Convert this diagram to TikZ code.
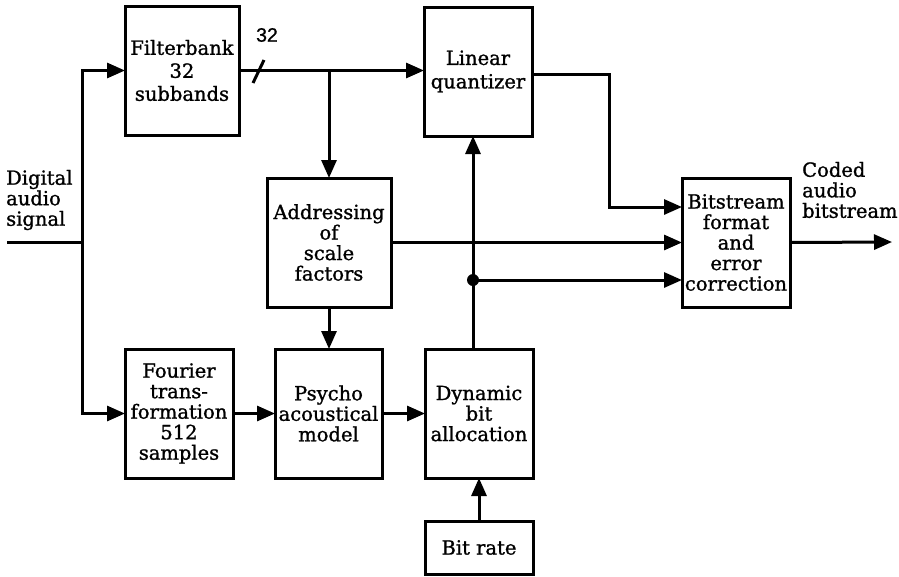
\documentclass[tikz,border=0pt]{standalone}
\usepackage{fontspec}
\setmainfont{DejaVu Serif}[FakeBold=1.2]
\newfontfamily\labelsans{Liberation Sans}[FakeBold=1.0]
\usetikzlibrary{arrows.meta}
\tikzset{
  blk/.style={draw, line width=3pt, inner sep=0pt, outer sep=0pt, align=center,
    font=\fontsize{19.5}{20.5}\selectfont},
  lbl/.style={inner sep=0pt, align=left, font=\fontsize{19.5}{20.5}\selectfont},
  con/.style={line width=3pt},
  arr/.style={con, -{Triangle[length=18pt,width=15pt]}},
}
\begin{document}
\begin{tikzpicture}[x=1pt,y=-1pt]
\useasboundingbox (0,0) rectangle (899,576);
% boxes
\node[blk, minimum width=114pt, minimum height=129pt] (fb) at (182,70.5) {Filterbank\\[2.5pt]32\\[2.5pt]subbands};
\node[blk, minimum width=108pt, minimum height=129pt] (lq) at (478,71.5) {Linear\\[3pt]quantizer};
\node[blk, minimum width=124pt, minimum height=129pt] (ad) at (329,242.5) {Addressing\\of\\scale\\factors};
\node[blk, minimum width=108pt, minimum height=129pt] (bs) at (736,242.5) {Bitstream\\format\\and\\error\\correction};
\node[blk, minimum width=108pt, minimum height=129pt] (ft) at (179,413.5) {Fourier\\trans-\\formation\\512\\samples};
\node[blk, minimum width=107pt, minimum height=129pt] (ps) at (328.5,413.5) {Psycho\\acoustical\\model};
\node[blk, minimum width=108pt, minimum height=129pt] (dy) at (479,413.5) {Dynamic\\bit\\allocation};
\node[blk, minimum width=108pt, minimum height=53pt] (br) at (479,547.5) {Bit rate};
% labels
\node[lbl, anchor=west] (inlbl) at (6,200) {Digital\\audio\\signal};
\node[lbl, anchor=west] (outlbl) at (802,190) {Coded\\audio\\bitstream};
\node[inner sep=0pt, font=\labelsans\fontsize{19.5}{20}\selectfont] (n32) at (267,35) {32};
% coordinates
\coordinate (sin) at (7,242);
\coordinate (j1) at (82,242);
\coordinate (sout) at (892,242);
\coordinate (k) at (609,207);
\fill (473,280) circle (6pt) coordinate (dot);
% connectors
\draw[con] (sin) -- (j1);
\draw[arr] (j1) |- (fb.west);
\draw[arr] (j1) |- (ft.west);
\draw[arr] (fb.east) -- (fb.east -| lq.west);
\draw[con] (253,83) -- (264,60);
\draw[arr] (ad.north |- fb.east) -- (ad.north);
\draw[arr] (ad.south) -- (ad.south |- ps.north);
\draw[arr] (ft.east) -- (ps.west);
\draw[arr] (ps.east) -- (dy.west);
\draw[arr] (dot |- dy.north) -- (dot |- lq.south);
\draw[arr] (dot) -- (dot -| bs.west);
\draw[arr] (ad.east) -- (bs.west);
\draw[arr] ([yshift=-2.5pt]lq.east) -| (k) -- (k -| bs.west);
\draw[arr] (bs.east) -- (sout);
\draw[arr] (br.north) -- (dy.south);
\end{tikzpicture}
\end{document}
